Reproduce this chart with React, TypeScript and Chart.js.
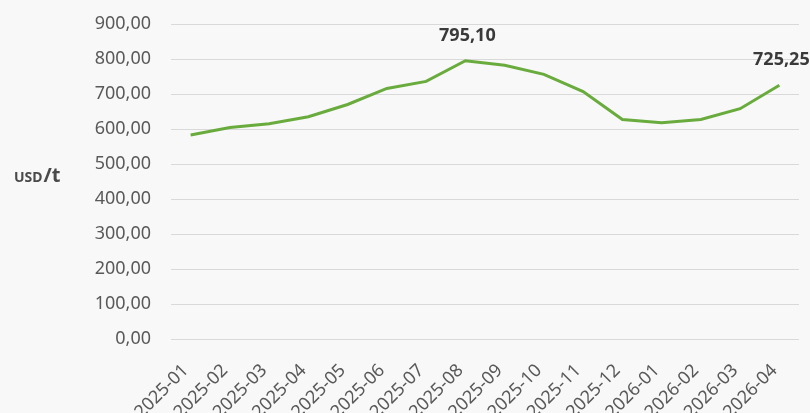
import React, { useEffect, useRef } from "react";
import { Chart, registerables } from "chart.js";

Chart.register(...registerables);

const categories = [
  "2025-01", "2025-02", "2025-03", "2025-04", "2025-05", "2025-06", "2025-07", "2025-08",
  "2025-09", "2025-10", "2025-11", "2025-12", "2026-01", "2026-02", "2026-03", "2026-04",
];
const prices = [583, 604, 615, 635, 670, 716, 736, 795.1, 782, 756, 707, 627, 618, 627, 658, 725.25];
const labelledIndexes = [7, 15];
const yTicks = [0, 100, 200, 300, 400, 500, 600, 700, 800, 900];
const unitMain = "USD";
const unitSuffix = "/t";

const FONT = "'Noto Sans', 'Open Sans', sans-serif";

const fmt = (v: number) =>
  v.toFixed(2).replace(".", ",");

const overlayPlugin = {
  id: "overlay",
  afterDatasetsDraw(chart: any) {
    const ctx = chart.ctx;
    const meta = chart.getDatasetMeta(0);
    ctx.save();
    ctx.fillStyle = "#3a3a3a";
    ctx.font = `bold 18px ${FONT}`;
    ctx.textAlign = "center";
    ctx.textBaseline = "alphabetic";
    labelledIndexes.forEach((i) => {
      const el = meta.data[i];
      if (!el) return;
      ctx.fillText(fmt(prices[i]), el.x + 2, el.y - 20);
    });
    // horizontal unit title
    const yScale = chart.scales.y;
    const base = yScale.getPixelForValue(448);
    ctx.fillStyle = "#4a4a4a";
    ctx.textAlign = "left";
    ctx.textBaseline = "alphabetic";
    ctx.font = `bold 14px ${FONT}`;
    const x0 = 14;
    ctx.fillText(unitMain, x0, base);
    const w = ctx.measureText(unitMain).width;
    ctx.font = `bold 20px ${FONT}`;
    ctx.fillText(unitSuffix, x0 + w + 1, base);
    ctx.restore();
  },
};

export default function App() {
  const ref = useRef<HTMLCanvasElement | null>(null);
  useEffect(() => {
    document.body.style.margin = "0";
    document.body.style.background = "#f8f8f8";
    const chart = new Chart(ref.current!, {
      type: "line",
      data: {
        labels: categories,
        datasets: [
          {
            data: prices,
            borderColor: "#69ac3d",
            borderWidth: 3,
            pointRadius: 0,
            tension: 0,
            fill: false,
          },
        ],
      },
      options: {
        animation: false,
        responsive: false,
        maintainAspectRatio: false,
        layout: { padding: { top: 24, right: 11, left: 0, bottom: 0 } },
        plugins: { legend: { display: false }, tooltip: { enabled: false } },
        scales: {
          x: {
            offset: true,
            grid: { display: false, drawTicks: false },
            border: { display: false },
            ticks: {
              autoSkip: false,
              maxRotation: 45,
              minRotation: 45,
              color: "#595959",
              font: { family: FONT, size: 18 },
              padding: 21,
              labelOffset: -5,
            },
            afterFit: (s: any) => {
              s.height = 74;
              s.paddingLeft = 0;
              s.paddingRight = 0;
            },
          },
          y: {
            min: 0,
            max: 900,
            afterBuildTicks: (s: any) => {
              s.ticks = yTicks.map((v) => ({ value: v }));
            },
            grid: { color: "#d9d9d9", drawTicks: false, lineWidth: 1 },
            border: { display: false },
            ticks: {
              color: "#595959",
              font: { family: FONT, size: 18 },
              padding: 20,
              callback: (v: any) => fmt(Number(v)),
            },
            afterFit: (s: any) => {
              s.width = 171;
              s.paddingTop = 0;
              s.paddingBottom = 0;
            },
          },
        },
      },
      plugins: [overlayPlugin],
    });
    return () => chart.destroy();
  }, []);
  return (
    <div style={{ width: 810, height: 413 }}>
      <canvas ref={ref} width={810} height={413} style={{ display: "block" }} />
    </div>
  );
}
